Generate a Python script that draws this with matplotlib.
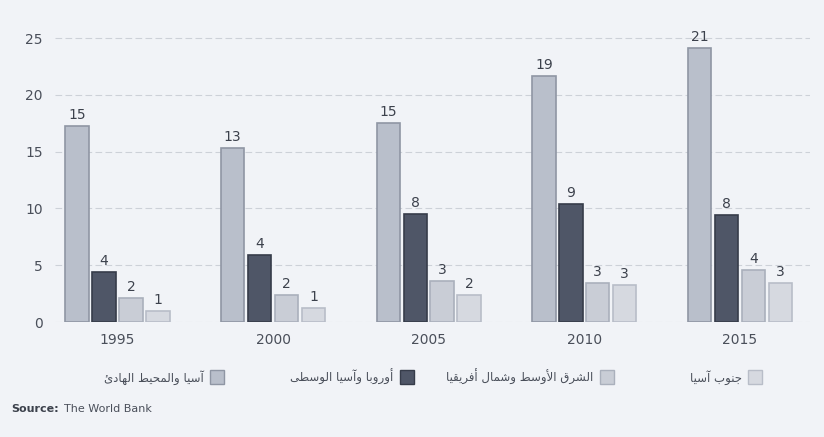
import numpy as np
import matplotlib.pyplot as plt
from matplotlib.patches import Rectangle

# ---- data ----
YEARS = ["1995", "2000", "2005", "2010", "2015"]

REGIONS = ["آسيا والمحيط الهادئ",
           "أوروبا وآسيا الوسطى",
           "الشرق الأوسط وشمال أفريقيا",
           "جنوب آسيا"]

# bar heights as measured against the y axis
asia_pacific = [17.3, 15.3, 17.5, 21.7, 24.1]
europe_casia = [4.4, 5.9, 9.5, 10.4, 9.4]
mena         = [2.1, 2.4, 3.6, 3.4, 4.6]
south_asia   = [1.0, 1.2, 2.4, 3.3, 3.4]

# numbers printed above the bars
asia_pacific_lbl = [15, 13, 15, 19, 21]
europe_casia_lbl = [4, 4, 8, 9, 8]
mena_lbl         = [2, 2, 3, 3, 4]
south_asia_lbl   = [1, 1, 2, 3, 3]

Y_TICKS = [0, 5, 10, 15, 20, 25]

COLORS = ["#b9bfcb", "#4f5667", "#c9cdd6", "#d6d9e0"]
EDGES = ["#8f96a4", "#363c4a", "#aab0bc", "#b8bdc8"]
TXT = "#4a4f5a"


def shape_arabic(s):
    """crude arabic joining + visual reordering (no reshaper libs here)"""
    four = {'ئ': 0xFE89, 'ب': 0xFE8F, 'ت': 0xFE95, 'ث': 0xFE99, 'ج': 0xFE9D,
            'ح': 0xFEA1, 'خ': 0xFEA5, 'س': 0xFEB1, 'ش': 0xFEB5, 'ص': 0xFEB9,
            'ض': 0xFEBD, 'ط': 0xFEC1, 'ظ': 0xFEC5, 'ع': 0xFEC9, 'غ': 0xFECD,
            'ف': 0xFED1, 'ق': 0xFED5, 'ك': 0xFED9, 'ل': 0xFEDD, 'م': 0xFEE1,
            'ن': 0xFEE5, 'ه': 0xFEE9, 'ي': 0xFEF1}
    two = {'آ': 0xFE81, 'أ': 0xFE83, 'ؤ': 0xFE85, 'إ': 0xFE87, 'ا': 0xFE8D,
           'ة': 0xFE93, 'د': 0xFEA9, 'ذ': 0xFEAB, 'ر': 0xFEAD, 'ز': 0xFEAF,
           'و': 0xFEED, 'ى': 0xFEEF}
    lamalef = {'آ': 0xFEF5, 'أ': 0xFEF7, 'إ': 0xFEF9, 'ا': 0xFEFB}
    out = []
    i = 0
    n = len(s)
    while i < n:
        c = s[i]
        prev = s[i - 1] if i > 0 else ''
        joins_prev = prev in four
        if c == 'ل' and i + 1 < n and s[i + 1] in lamalef:
            out.append(chr(lamalef[s[i + 1]] + (1 if joins_prev else 0)))
            i += 2
            continue
        nxt = s[i + 1] if i + 1 < n else ''
        joins_next = nxt in four or nxt in two
        if c in four:
            base = four[c]
            if joins_prev and joins_next:
                out.append(chr(base + 3))
            elif joins_next:
                out.append(chr(base + 2))
            elif joins_prev:
                out.append(chr(base + 1))
            else:
                out.append(chr(base))
        elif c in two:
            out.append(chr(two[c] + (1 if joins_prev else 0)))
        else:
            out.append(c)
        i += 1
    return ''.join(reversed(out))


fig = plt.figure(figsize=(8.24, 4.37), dpi=100)
fig.patch.set_facecolor("#f1f3f7")
ax = fig.add_axes([0.067, 0.263, 0.916, 0.668])
ax.set_facecolor("#f1f3f7")

x = np.arange(len(YEARS))
step = 0.173
width = 0.15
series = [asia_pacific, europe_casia, mena, south_asia]
labels = [asia_pacific_lbl, europe_casia_lbl, mena_lbl, south_asia_lbl]

for k, (vals, lbls) in enumerate(zip(series, labels)):
    pos = x + (k - 1.5) * step
    ax.bar(pos, vals, width, color=COLORS[k], edgecolor=EDGES[k], linewidth=1.2, zorder=3)
    for px, v, l in zip(pos, vals, lbls):
        ax.text(px, v + 0.35, str(l), ha="center", va="bottom", fontsize=10,
                color="#3c414c", zorder=4)

ax.set_xlim(-0.4, 4.45)
ax.set_ylim(0, 25.7)
ax.set_yticks(Y_TICKS)
ax.set_yticklabels([str(t) for t in Y_TICKS], fontsize=10, color=TXT)
ax.set_xticks(x)
ax.set_xticklabels(YEARS, fontsize=10, color=TXT)
ax.tick_params(length=0, pad=8)
ax.tick_params(axis="y", pad=9)
for s in ax.spines.values():
    s.set_visible(False)
ax.grid(axis="y", color="#cdd1d8", linewidth=0.8, linestyle=(0, (6, 3)), zorder=0)

# legend, right-to-left style: swatch sits to the right of its text
swatch_x = [0.255, 0.485, 0.728, 0.908]
for k, name in enumerate(REGIONS):
    sx = swatch_x[k]
    fig.add_artist(Rectangle((sx, 0.122), 0.017, 0.032, transform=fig.transFigure,
                             facecolor=COLORS[k], edgecolor=EDGES[k], linewidth=1))
    fig.text(sx - 0.008, 0.137, shape_arabic(name), ha="right", va="center",
             fontsize=8.5, color=TXT, family="DejaVu Sans")

fig.text(0.014, 0.058, "Source:", fontsize=8, fontweight="bold", color="#3c414c")
fig.text(0.078, 0.058, "The World Bank", fontsize=8, color=TXT)

fig.savefig("out.png", dpi=100, facecolor=fig.get_facecolor())
